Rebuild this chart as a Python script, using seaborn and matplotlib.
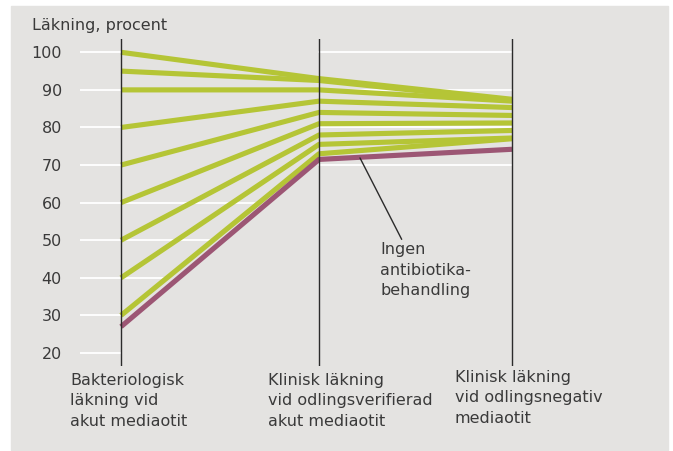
import numpy as np
import pandas as pd
import matplotlib
matplotlib.use("Agg")
import matplotlib.pyplot as plt
from matplotlib.patches import Rectangle
import seaborn as sns

# Data (läst ur bilden)
kategorier = ["Bakteriologisk\nläkning vid\nakut mediaotit",
              "Klinisk läkning\nvid odlingsverifierad\nakut mediaotit",
              "Klinisk läkning\nvid odlingsnegativ\nmediaotit"]
serier = ["grupp 1", "grupp 2", "grupp 3", "grupp 4", "grupp 5",
          "grupp 6", "grupp 7", "grupp 8", "grupp 9", "Ingen antibiotikabehandling"]
bakteriologisk = [100, 95, 90, 80, 70, 60, 50, 40, 30, 27]
odlingsverifierad = [93, 92.5, 90, 87, 84, 81, 78, 75.5, 73, 71.5]
odlingsnegativ = [87.5, 87.2, 87, 85.3, 83.2, 81.2, 79.2, 77.2, 77.0, 74.2]
yticks = [20, 30, 40, 50, 60, 70, 80, 90, 100]

# Layout / stil
positioner = [0, 1, 1.975]
gron = "#b5c536"
lila = "#9c5674"
bg = "#e4e3e1"
textfarg = "#3a3a3a"
fs = 11.5

kolumner = [bakteriologisk, odlingsverifierad, odlingsnegativ]
rows = []
for i, namn in enumerate(serier):
    for j, x in enumerate(positioner):
        rows.append({"serie": namn, "x": x, "varde": kolumner[j][i]})
df = pd.DataFrame(rows)
farger = {n: gron for n in serier[:-1]}
farger[serier[-1]] = lila

W, H = 673, 451
fig = plt.figure(figsize=(W / 100, H / 100), dpi=100)
fig.patch.set_facecolor("white")
fig.patches.append(Rectangle((11 / W, 1 - 450 / H), 657 / W, 444 / H,
                             transform=fig.transFigure, color=bg, zorder=-5))

# axes: x-pixel 80..520, y-pixel 39..366
ax = fig.add_axes([80 / W, 1 - 366 / H, 440 / W, 327 / H])
ax.set_facecolor("none")
ax.set_zorder(2)
ax.set_xlim(-41 / 198, 399 / 198)
ax.set_ylim(20 - 13 / 3.76, 100 + 13.3 / 3.76)

# rutnät (bara de synliga delarna)
for v in yticks:
    ax.plot([ax.get_xlim()[0], 0], [v, v], color="white", lw=1.3, zorder=1)
lag_start, lag_mitt = bakteriologisk[-2], odlingsverifierad[-2]
for v in [30, 40, 50, 60]:
    xe = (v - lag_start) / (lag_mitt - lag_start)
    ax.plot([0, xe], [v, v], color="white", lw=1.3, zorder=1)
for v in [70, 80, 90, 100]:
    ax.plot([positioner[1], positioner[2]], [v, v], color="white", lw=1.3, zorder=1)

sns.lineplot(data=df, x="x", y="varde", hue="serie", hue_order=serier,
             palette=farger, linewidth=3.7, legend=False, sort=False,
             estimator=None, ax=ax, zorder=3)
for ln in ax.lines[-len(serier):]:
    ln.set_solid_capstyle("butt")
    ln.set_solid_joinstyle("round")

for x in positioner:
    ax.axvline(x, color="#2b2b2b", lw=1.0, zorder=5)

for s in ax.spines.values():
    s.set_visible(False)
ax.set_xticks([])
ax.set_yticks(yticks)
ax.set_yticklabels([str(t) for t in yticks])
ax.tick_params(axis="y", length=0, pad=13, labelsize=fs, labelcolor=textfarg)
ax.set_xlabel("")
ax.set_ylabel("")

fig.text(32 / W, 1 - 30 / H, "Läkning, procent", fontsize=fs, color=textfarg,
         va="baseline", ha="left")

for txt, xp, yp in zip(kategorier, [70, 268, 455], [373, 373, 370]):
    fig.text(xp / W, 1 - yp / H, txt, fontsize=fs, color=textfarg,
             va="top", ha="left", linespacing=1.45)

# annotering
ax.annotate("Ingen\nantibiotika-\nbehandling",
            xy=(1.207, 71.9), xytext=(1.31, 49.5),
            fontsize=fs, color=textfarg, va="top", ha="left", linespacing=1.45,
            arrowprops=dict(arrowstyle="-", color="#2b2b2b", lw=1.0,
                            shrinkA=0, shrinkB=0, relpos=(0.25, 1.0)),
            zorder=6)

fig.savefig("out.png", dpi=100, facecolor=fig.get_facecolor())
